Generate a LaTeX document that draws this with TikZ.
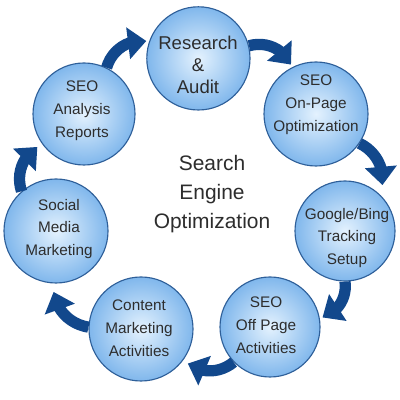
\documentclass[tikz,border=0pt]{standalone}
\usepackage{fontspec}
\setmainfont{Liberation Sans}
\usepackage{tikz}
\usetikzlibrary{arrows.meta,bending}

\definecolor{ringblue}{RGB}{18,72,140}
\definecolor{edgeblue}{RGB}{46,95,153}
\definecolor{innerblue}{RGB}{228,242,254}
\definecolor{outerblue}{RGB}{128,183,236}
\definecolor{textgray}{RGB}{45,45,45}

\begin{document}
\begin{tikzpicture}[
  bubble/.style={circle, draw=edgeblue, line width=0.8pt, inner sep=0pt,
    inner color=innerblue, outer color=outerblue},
  lbl/.style={align=center, text=textgray, font=\fontsize{10.9}{16.2}\selectfont},
  flow/.style={draw=ringblue, line width=8pt, -{Triangle[length=13pt,width=22pt,flex]}, shorten >=2pt}
]
  \fill[white] (0,0) rectangle (10,10);
  \useasboundingbox (0,0) rectangle (10,10);
  \node[bubble, minimum size=2.58cm] (audit) at (4.96,8.54) {};
  \node[bubble, minimum size=2.6cm] (onpage) at (7.9,7.15) {};
  \node[bubble, minimum size=2.5cm] (tracking) at (8.625,4.225) {};
  \node[bubble, minimum size=2.5cm] (offpage) at (6.75,1.825) {};
  \node[bubble, minimum size=2.6cm] (content) at (3.525,1.775) {};
  \node[bubble, minimum size=2.6cm] (social) at (1.4,4.225) {};
  \node[bubble, minimum size=2.55cm] (reports) at (2.1,7.15) {};
  \node[lbl, font=\fontsize{13.2}{15.6}\selectfont] (audit-t) at (4.95,8.375) {Research\\\&\\Audit};
  \node[lbl] (onpage-t) at (7.9,7.375) {SEO\\On-Page\\Optimization};
  \node[lbl] (tracking-t) at (8.675,4.05) {Google/Bing\\Tracking\\Setup};
  \node[lbl] (offpage-t) at (6.65,1.875) {SEO\\Off Page\\Activities};
  \node[lbl] (content-t) at (3.475,1.8) {Content\\Marketing\\Activities};
  \node[lbl] (social-t) at (1.475,4.275) {Social\\Media\\Marketing};
  \node[lbl] (reports-t) at (2.05,7.225) {SEO\\Analysis\\Reports};
  \node[lbl, font=\fontsize{14.9}{20.4}\selectfont] (title) at (5.3,5.15) {Search\\Engine\\Optimization};
  \draw[flow] (reports.64) to[bend left=42] (audit.161);
  \draw[flow] (audit.14) to[bend left=42] (onpage.117);
  \draw[flow, shorten >=7pt] (onpage.-34) to[bend left=42] (tracking.46);
  \draw[flow] (tracking.-90) to[bend left=42] (offpage.10);
  \draw[flow, shorten >=4pt] (offpage.-136) to[bend left=42] (content.-36);
  \draw[flow, shorten >=6pt] (content.178) to[bend left=42] (social.-93);
  \draw[flow, shorten >=4pt] (social.131) to[bend left=42] (reports.216);
\end{tikzpicture}
\end{document}
